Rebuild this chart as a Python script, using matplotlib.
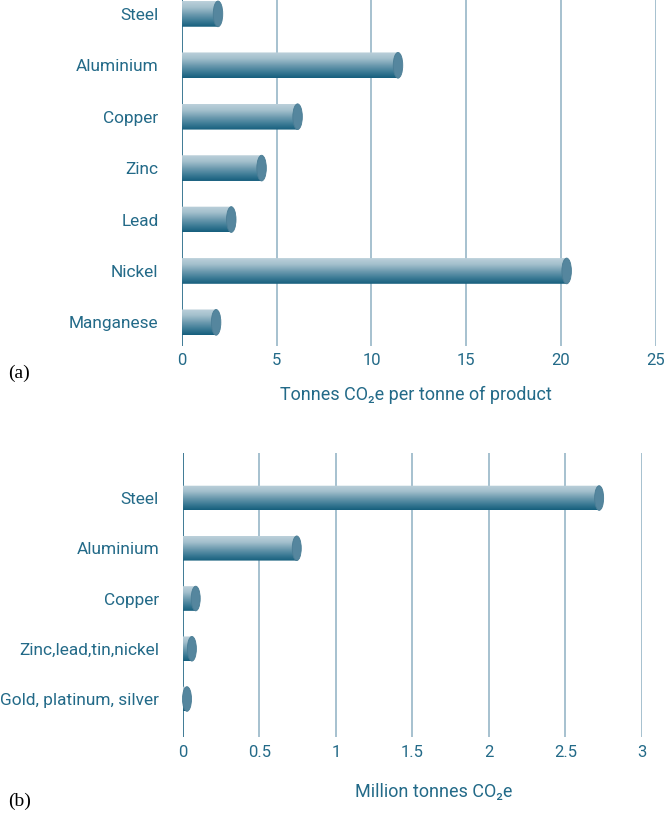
import numpy as np
import matplotlib
matplotlib.use("Agg")
import matplotlib.pyplot as plt
from matplotlib.path import Path
from matplotlib.patches import Ellipse
from matplotlib.colors import LinearSegmentedColormap

# ---- data ----
cats_a = ["Steel", "Aluminium", "Copper", "Zinc", "Lead", "Nickel", "Manganese"]
vals_a = [1.9, 11.4, 6.1, 4.2, 2.6, 20.3, 1.8]
ticks_a = [0, 5, 10, 15, 20, 25]
label_a = "Tonnes CO\u2082e per tonne of product"

cats_b = ["Steel", "Aluminium", "Copper", "Zinc,lead,tin,nickel", "Gold, platinum, silver"]
vals_b = [2.72, 0.745, 0.085, 0.06, 0.028]
ticks_b = [0, 0.5, 1, 1.5, 2, 2.5, 3]
ticklabels_b = ["0", "0.5", "1", "1.5", "2", "2.5", "3"]
label_b = "Million tonnes CO\u2082e"

plt.rcParams['font.family'] = ['Roboto', 'Noto Sans', 'DejaVu Sans']
TXT = '#236a88'
GRID = '#9fbccc'
ZERO = '#2f6f8c'
CAP = '#55869e'

W, H = 666, 813
fig = plt.figure(figsize=(W / 100, H / 100), dpi=100)

grad = LinearSegmentedColormap.from_list(
    "cyl", ["#bcd0da", "#a2bfcc", "#6f9cb0", "#3f7d97", "#165f7d"])
img = grad(np.linspace(0, 1, 64))[:, None, :]


def px_box(l, t, r, b):
    return [l / W, 1 - b / H, (r - l) / W, (b - t) / H]


def draw_panel(ax, cats, vals, xlim, ylim, ticks, ticklabels, barh=0.5, cap_px=9.5):
    ax.set_xlim(*xlim)
    ax.set_ylim(*ylim)
    for s in ax.spines.values():
        s.set_visible(False)
    for t in ticks:
        ax.axvline(t, color=ZERO if t == 0 else GRID, lw=1.3, zorder=1)
    ax.set_xticks(ticks)
    ax.set_xticklabels(ticklabels)
    ax.set_yticks(range(len(cats)))
    ax.set_yticklabels(cats)
    ax.tick_params(axis='both', length=0, colors=TXT)
    ax.tick_params(axis='y', labelsize=12.4, pad=17)
    ax.tick_params(axis='x', labelsize=12)
    bbox = ax.get_window_extent()
    ppu = bbox.width / (xlim[1] - xlim[0])
    w = cap_px / ppu
    for i, v in enumerate(vals):
        y = i
        h = barh
        t = np.linspace(np.pi / 2, 3 * np.pi / 2, 40)
        pts = [(w / 2 * np.cos(a), y + h / 2 * np.sin(a)) for a in t]
        pts += [(v, y - h / 2), (v, y + h / 2), (0, y + h / 2)]
        path = Path(pts)
        im = ax.imshow(img, extent=(-w / 2, v, y + h / 2, y - h / 2),
                       aspect='auto', origin='upper', zorder=3,
                       interpolation='bilinear')
        im.set_clip_path(path, transform=ax.transData)
        e = Ellipse((v, y), w, h, facecolor=CAP, edgecolor='#4a7d95',
                    lw=0.6, zorder=4, clip_on=False)
        ax.add_patch(e)
    ax.set_xlim(*xlim)
    ax.set_ylim(*ylim)


ax1 = fig.add_axes(px_box(182, 0, 655.7, 346))
draw_panel(ax1, cats_a, vals_a, (0, 25), (6.46, -0.27), ticks_a,
           [str(t) for t in ticks_a])
ax1.tick_params(axis='x', pad=5)

ax2 = fig.add_axes(px_box(182.7, 453, 642, 737))
draw_panel(ax2, cats_b, vals_b, (0, 3), (4.756, -0.896), ticks_b, ticklabels_b,
           barh=0.49, cap_px=9)
ax2.tick_params(axis='x', pad=6)

fig.text(416 / W, 1 - 395 / H, label_a, color=TXT, fontsize=13,
         ha='center', va='center')
fig.text(434 / W, 1 - 792 / H, label_b, color=TXT, fontsize=13,
         ha='center', va='center')
fig.text(8 / W, 1 - 373 / H, "(a)", family=['Liberation Serif', 'DejaVu Serif'],
         fontsize=14, ha='left', va='center', color='black')
fig.text(8 / W, 1 - 801 / H, "(b)", family=['Liberation Serif', 'DejaVu Serif'],
         fontsize=14, ha='left', va='center', color='black')

fig.savefig("out.png", dpi=100)
